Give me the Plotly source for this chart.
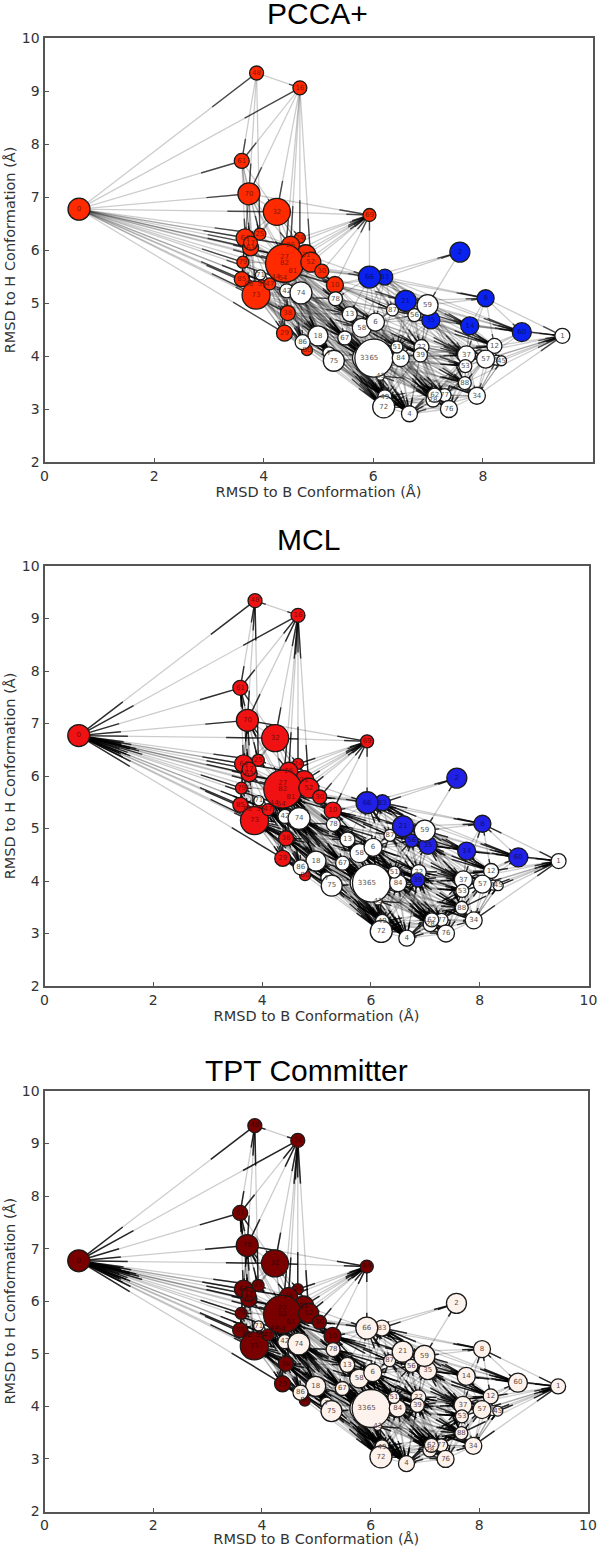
import plotly.graph_objects as go

node_ids = [27,44,54,81,71,68,55,33,5,45,31,80,43,0,16,48,61,70,32,25,64,63,17,24,26,79,82,52,30,85,73,47,42,74,10,78,13,38,29,18,86,7,75,67,58,6,83,66,2,8,87,21,56,35,59,14,60,1,12,37,53,57,65,84,51,22,39,88,34,77,28,62,76,49,72,4,69]
node_x = [4.38,4.22,4.35,4.53,3.94,3.73,3.97,5.84,8.25,8.34,4.77,4.79,6.13,.63,4.66,3.87,3.60,3.73,4.24,3.93,3.66,3.76,3.76,4.66,4.49,3.62,4.38,4.86,5.06,3.60,3.86,4.11,4.42,4.68,5.30,5.31,5.57,4.44,4.38,4.99,4.71,5.19,5.28,5.48,5.79,6.04,6.21,5.93,7.58,8.05,6.35,6.59,6.75,7.05,6.99,7.76,8.71,9.45,8.21,7.70,7.68,8.05,6.01,6.50,6.43,6.88,6.86,7.67,7.89,7.30,7.09,7.12,7.38,6.21,6.19,6.66,5.93]
node_y = [5.87,5.49,5.47,5.60,5.53,5.36,5.36,3.96,3.92,3.91,5.91,4.11,3.62,6.77,9.06,9.34,7.68,7.06,6.72,6.30,6.23,6.04,6.13,6.23,6.09,5.77,5.75,5.77,5.60,5.45,5.15,5.36,5.23,5.19,5.34,5.08,4.79,4.81,4.43,4.38,4.26,4.06,3.91,4.34,4.53,4.64,5.49,5.49,5.96,5.09,4.87,5.04,4.77,4.68,4.96,4.57,4.45,4.38,4.19,4.02,3.81,3.94,3.96,3.96,4.17,4.17,4.02,3.49,3.25,3.26,3.17,3.26,3.00,3.23,3.04,2.91,6.66]
node_size = [10,8,8,9,10,8,8,24,10,10,20,11,8,22,14,14,15,22,27,12,18,16,14,11,18,12,38,20,14,15,28,12,14,22,17,14,15,15,16,20,15,12,21,14,19,18,16,22,20,17,12,21,13,18,21,18,19,15,15,18,13,18,38,17,12,15,14,13,17,13,14,14,17,14,22,16,13]

red_nodes = [0,16,48,61,70,32,64,25,17,63,26,24,27,82,81,44,54,52,31,30,10,79,85,73,68,55,47,38,29,80,69]
pcca_blue = [66,83,2,8,21,35,14,60]
mcl_blue = [66,83,2,8,21,56,35,39,14,60]

edges = {
 0:[48,16,61,70,32,64,25,17,63,26,82,27,52,79,85,73,29,38,47,44,68,30,10,42],
 48:[16,61,70,25],
 16:[61,70,32,26,24,52,82],
 70:[69,32,64,25,17,63,26,82,27,61,79,85,73],
 61:[64,25,17,63,32],
 32:[64,25,26,24,82,27,52,17,63,31,69],
 64:[25,17,63,79,85,73,82,26,27,44,68],
 25:[26,17,63,82,27,79],
 17:[79,85,73,82,44,47],
 63:[79,85,73,82,54,68],
 79:[85,73,71,44,68,55,82],
 85:[73,71,47,68,82],
 26:[24,52,31,69,82,30,10],
 24:[52,31,69,30],
 52:[69,30,10,74,78,42],
 31:[69,30,10,66],
 30:[69,10,78,66,83,13],
 10:[69,78,13,58,6,66,83,21,87,56,59,14,12,37,84],
 66:[69,2,8,14,60,83,58,6,13,78,21,87,56,59,35,84,39,22],
 83:[2,8,60,21,87,56,59,35,14,6,37,12,58],
 82:[69,74,42,18,86,67,75,13,78,58,33,65,10,6,66,83,21,87],
 81:[69,74,78,10,13,58,18,67],
 73:[74,42,38,29,86,18,67,75,7,13,78,58,33,65,84,72,49],
 27:[69,18,67,75,13,58,33,65,6,38,29,74,78,10],
 44:[38,29,18,86,75,67,33,65,72],
 54:[38,18,86,67,75,33,65,13,58,49,4],
 47:[38,29,86,18,7,75,67,33,65,72,49],
 68:[38,29,86,80,42],
 55:[38,29,42,18],
 38:[18,86,80,67,75,7,33,65,13,58,72,49,4],
 29:[86,80,18,75,72,49,7],
 42:[18,86,67,75,7,33,65,13,58,84,72,49,4],
 74:[18,86,67,75,7,33,65,13,58,6,84,51,72,49,4,39,22],
 78:[13,58,67,33,65,6,87,56,84,51,39,22,72,4,37,12],
 13:[58,6,67,33,65,84,51,39,22,72,49,4,62,28],
 18:[75,7,67,33,65,72,49,4,84,43,76],
 86:[75,7,33,65,72,49,4],
 75:[72,49,43,4,33,65,84],
 7:[72,49,4,43,33,65],
 67:[33,65,58,72,49,4,43,84,51,62,28,76],
 58:[6,33,65,84,51,39,22,72,49,4,62,28,77,76,88,37,53],
 6:[65,84,51,39,22,72,49,4,62,28,77,76,88,37,57,87,56,59,35],
 33:[72,49,4,43,62,28,77,76,84,88,34,53],
 65:[72,49,4,43,62,28,77,76,84,51,39,22,88,34,53,37,57,12],
 84:[72,49,4,43,62,28,77,76,88,34,53,37,39,22],
 51:[72,4,62,28,77,76,88,34,53,37,22],
 39:[22,4,72,49,62,28,77,76,88,34,53,37,57,12],
 22:[4,72,62,28,77,76,88,34,53,37,57,12,5],
 2:[59],
 21:[8,60,87,56,59,35,14,6,37,12,51,22,39,84],
 87:[56,6,58,35,59,65,39,22,37],
 56:[14,60,59,35,6,37,12,84,39,22,51,53,65,57],
 59:[8,60,35,14,39,22,37,12,53,88],
 35:[60,1,14,39,22,37,12,53,57,84,51,88,5,45],
 14:[8,60,1,12,37,53,57,5,45],
 8:[60,1,12,37],
 60:[1,12,57,37],
 12:[1,37,53,57,5,45,88,34],
 37:[1,53,57,88,5,34,62,77,28,4,76],
 53:[1,57,88,34,62,77,28,76,4,72],
 57:[1,88,34,5,45,76,77],
 5:[1,45,34],
 45:[1,34],
 88:[1,34,62,77,28,76,4,72,49,43],
 34:[1,62,77,28,76,4,5,45],
 62:[77,28,76,4,72,49,43],
 28:[76,4,72,49],
 77:[76,4,72],
 76:[4,72,49],
 4:[72,49,43],
 72:[49,43],
}

panel_titles = ["PCCA+", "MCL", "TPT Committer"]
x_title = "RMSD to B Conformation (Å)"
y_title = "RMSD to H Conformation (Å)"

W, H = 600, 1547
frames = [(44.5, 592.5, 38, 462), (44.5, 588.5, 566, 986), (44.5, 588, 1091, 1511.5)]
title_pos = [(317, 14), (308.5, 539), (306.5, 1070)]
stub_style = [(1.4, 0.65, False), (1.4, 0.78, True), (1.5, 0.82, True)]

pos = {n: (x, y) for n, x, y in zip(node_ids, node_x, node_y)}

def node_style(panel, n):
    red = n in red_nodes
    if panel == 0:
        if red: return "#ff2a00", "#8a1500"
        if n in pcca_blue: return "#0a22f0", "#06107a"
        return "#ffffff", "#555555"
    if panel == 1:
        if red: return "#f01212", "#800a0a"
        if n in mcl_blue: return "#2020e6", "#101070"
        return "#ffffff", "#555555"
    if red: return "#7a0000", "#3c0000"
    return "#fdf3ec", "#5f4a4a"

fig = go.Figure()
annotations = []
layout = {}
for p, (l, r, t, b) in enumerate(frames):
    sfx = "" if p == 0 else str(p + 1)
    lx, ly, sx, sy = [], [], [], []
    w, alpha, both = stub_style[p]
    for a, targets in edges.items():
        ax, ay = pos[a]
        for c in targets:
            cx, cy = pos[c]
            lx += [ax, cx, None]
            ly += [ay, cy, None]
            sx += [ax + 0.75 * (cx - ax), cx, None]
            sy += [ay + 0.75 * (cy - ay), cy, None]
            if both:
                sx += [ax, ax + 0.25 * (cx - ax), None]
                sy += [ay, ay + 0.25 * (cy - ay), None]
    fig.add_trace(go.Scatter(x=lx, y=ly, mode="lines", hoverinfo="skip", showlegend=False,
                             xaxis="x" + sfx, yaxis="y" + sfx,
                             line=dict(color="rgba(0,0,0,0.2)", width=1.3)))
    fig.add_trace(go.Scatter(x=sx, y=sy, mode="lines", hoverinfo="skip", showlegend=False,
                             xaxis="x" + sfx, yaxis="y" + sfx,
                             line=dict(color=f"rgba(0,0,0,{alpha})", width=w)))
    styles = [node_style(p, n) for n in node_ids]
    fig.add_trace(go.Scatter(x=node_x, y=node_y, mode="markers+text", showlegend=False,
                             xaxis="x" + sfx, yaxis="y" + sfx,
                             text=[str(n) for n in node_ids], textposition="middle center",
                             textfont=dict(family="DejaVu Sans", size=7, color=[s[1] for s in styles]),
                             marker=dict(size=node_size, color=[s[0] for s in styles],
                                         opacity=1, line=dict(color="#1a1a1a", width=1.3))))
    axis = dict(showgrid=False, zeroline=False, showline=True, mirror=True, linecolor="#555555",
                linewidth=2, ticks="inside", ticklen=4, tickcolor="#555555", tickwidth=1,
                tickfont=dict(family="DejaVu Sans", size=14, color="#333333"), automargin=False)
    layout["xaxis" + sfx] = dict(axis, domain=[l / W, r / W], range=[0, 10], tickvals=[0, 2, 4, 6, 8, 10],
                                 anchor="y" + sfx,
                                 title=dict(text=x_title, standoff=2,
                                            font=dict(family="DejaVu Sans", size=14.5, color="#333333")))
    layout["yaxis" + sfx] = dict(axis, domain=[1 - b / H, 1 - t / H], range=[2, 10], tickvals=[2, 3, 4, 5, 6, 7, 8, 9, 10],
                                 anchor="x" + sfx,
                                 title=dict(text=y_title, standoff=3,
                                            font=dict(family="DejaVu Sans", size=14.5, color="#333333")))
    tx, ty = title_pos[p]
    annotations.append(dict(text=panel_titles[p], xref="paper", yref="paper", x=tx / W, y=1 - ty / H,
                            xanchor="center", yanchor="middle", showarrow=False,
                            font=dict(family="Liberation Sans", size=30, color="#000000")))

fig.update_layout(width=W, height=H, margin=dict(l=0, r=0, t=0, b=0), paper_bgcolor="white",
                  plot_bgcolor="white", annotations=annotations, **layout)
fig.write_html("out.html", config={"displayModeBar": False}, post_script="document.body.style.margin='0';")
